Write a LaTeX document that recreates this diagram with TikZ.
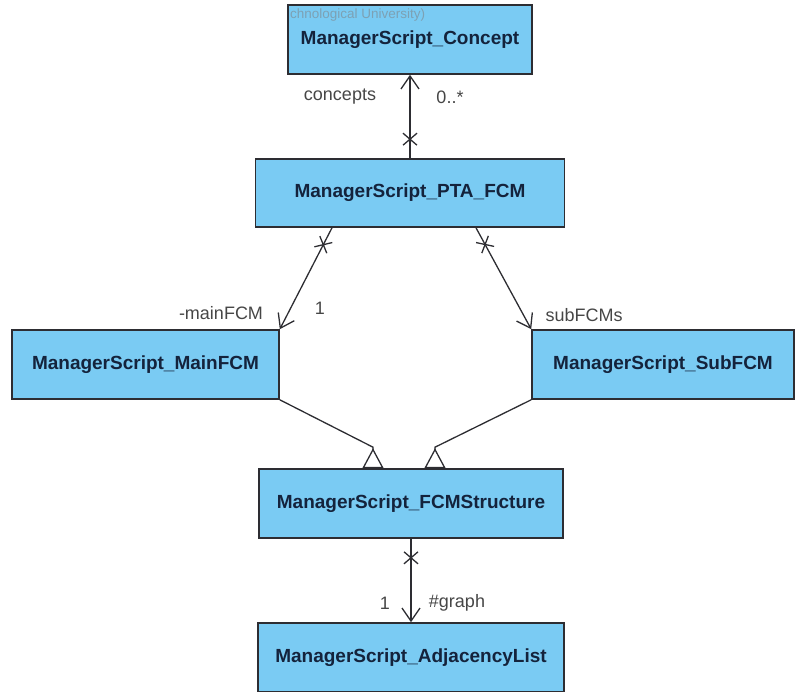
\documentclass[tikz,border=0pt]{standalone}
\usepackage{fontspec}
\setmainfont{Liberation Sans}
\usetikzlibrary{arrows.meta,decorations.markings}
\definecolor{classblue}{RGB}{122,203,243}
\definecolor{classline}{RGB}{45,45,50}
\definecolor{classtext}{RGB}{20,35,60}
\definecolor{roletext}{RGB}{70,70,70}
\tikzset{
  classbox/.style = {rectangle, draw=classline, line width=1.6pt, fill=classblue, text=classtext, inner sep=0pt, font=\fontsize{19}{21}\selectfont\bfseries},
  assoc/.style = {classline, line width=1.3pt, -{Straight Barb[length=13pt,width=18pt,line width=1.3pt]}},
  navx/.style = {postaction={decorate}, decoration={markings, mark=at position 19pt with {\draw[-, classline, line width=1.3pt] (-6pt,-7pt) -- (6pt,7pt) (-6pt,7pt) -- (6pt,-7pt);}}},
  generalize/.style = {classline, line width=1.3pt, -{Triangle[open,reversed,length=20pt,width=21pt,line width=1.3pt]}},
  role/.style = {text=roletext, inner sep=0pt, font=\fontsize{18}{20}\selectfont},
}

\begin{document}
\begin{tikzpicture}[x=1pt, y=-1pt]
\useasboundingbox (0,0) rectangle (795,692);

% classes
\node[classbox, minimum width=244pt, minimum height=69pt] (concept) at (410,39.5) {ManagerScript\_Concept};
\node[anchor=west, inner sep=0pt, text=gray!55!classblue, font=\fontsize{13.5}{15}\selectfont] (faint) at (290,15) {chnological University)};
\node[classbox, minimum width=309pt, minimum height=68pt] (pta) at (410,193) {ManagerScript\_PTA\_FCM};
\node[classbox, minimum width=267pt, minimum height=69pt] (mainfcm) at (145.5,364.5) {ManagerScript\_MainFCM};
\node[classbox, minimum width=262pt, minimum height=69pt] (subfcm) at (663,364.5) {ManagerScript\_SubFCM};
\node[classbox, minimum width=304pt, minimum height=69pt] (fcm) at (411,503.5) {ManagerScript\_FCMStructure};
\node[classbox, minimum width=306pt, minimum height=69pt] (adj) at (411,657.5) {ManagerScript\_AdjacencyList};

% associations
\draw[assoc, navx] (pta.north) -- (pta.north |- concept.south);
\node[role] (concepts) at (340,97) {concepts};
\node[role] (conceptsmult) at (450,97) {0..*};

\draw[assoc, navx] ([xshift=-78pt]pta.south) -- (mainfcm.north east);
\node[role] (mainrole) at (221,313) {-mainFCM};
\node[role] (mainmult) at (320,308) {1};

\draw[assoc, navx] ([xshift=66pt]pta.south) -- (subfcm.north west);
\node[role] (subrole) at (584,315) {subFCMs};

\draw[assoc, navx] (fcm.south) -- (fcm.south |- adj.north);
\node[role] (graphmult) at (385,603) {1};
\node[role] (graphrole) at (457,603) {\#graph};

% generalizations
\draw[generalize] (mainfcm.south east) -- ([xshift=-38pt,yshift=21pt]fcm.north) -- ([xshift=-38pt]fcm.north);
\draw[generalize] (subfcm.south west) -- ([xshift=24pt,yshift=21pt]fcm.north) -- ([xshift=24pt]fcm.north);

\end{tikzpicture}
\end{document}
